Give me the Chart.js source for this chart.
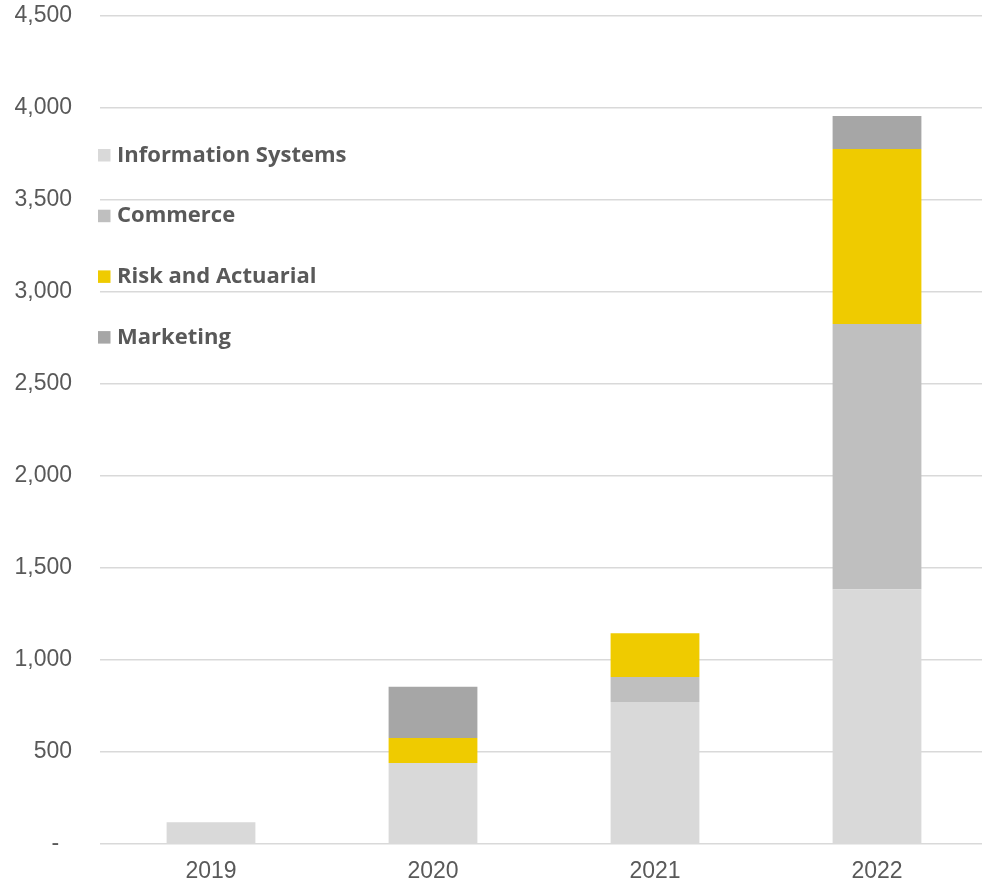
<!DOCTYPE html>
<html>
<head>
<meta charset="utf-8">
<script src="https://cdn.jsdelivr.net/npm/chart.js@4.4.1/dist/chart.umd.min.js"></script>
<style>
    html, body { margin: 0; padding: 0; background: #fff; overflow: hidden; }
    #wrap { width: 988px; height: 886px; position: relative; }
</style>
</head>
<body>
<div id="wrap"><canvas id="chart"></canvas></div>
<script>
// Chart data
const years = ["2019", "2020", "2021", "2022"];
const infoSystems = [116, 438, 770, 1382];
const commerce = [0, 0, 136, 1442];
const riskActuarial = [0, 136, 237, 951];
const marketing = [0, 279, 0, 179];
const yTicks = [0, 500, 1000, 1500, 2000, 2500, 3000, 3500, 4000, 4500];

const textGrey = "#595959";

// Legend drawn inside the plot area, top left
const insideLegend = {
    id: "insideLegend",
    afterDraw(chart) {
        const ctx = chart.ctx;
        const x = 98;
        const startY = 155;
        const step = 60.7;
        ctx.save();
        ctx.font = "700 22px 'Open Sans'";
        ctx.textBaseline = "middle";
        ctx.textAlign = "left";
        chart.data.datasets.forEach((ds, i) => {
            const y = startY + i * step;
            ctx.fillStyle = ds.backgroundColor;
            ctx.fillRect(x, y - 6, 12.5, 12.5);
            ctx.fillStyle = textGrey;
            ctx.fillText(ds.label, x + 19, y + 0.5);
        });
        ctx.restore();
    }
};

const makeSet = (label, data, color) => ({
    label: label,
    data: data,
    backgroundColor: color,
    borderWidth: 0,
    barPercentage: 0.4,
    categoryPercentage: 1.0
});

new Chart(document.getElementById("chart"), {
    type: "bar",
    data: {
        labels: years,
        datasets: [
            makeSet("Information Systems", infoSystems, "#d9d9d9"),
            makeSet("Commerce", commerce, "#bfbfbf"),
            makeSet("Risk and Actuarial", riskActuarial, "#efcb00"),
            makeSet("Marketing", marketing, "#a6a6a6")
        ]
    },
    options: {
        responsive: true,
        maintainAspectRatio: false,
        animation: false,
        layout: { padding: { top: 15.5, right: 0, left: 0, bottom: 0 } },
        plugins: {
            legend: { display: false },
            tooltip: { enabled: false }
        },
        scales: {
            x: {
                stacked: true,
                grid: { display: false, drawTicks: false },
                border: { display: false },
                ticks: {
                    color: textGrey,
                    font: { family: "'Liberation Sans', Arial", size: 23 },
                    padding: 14
                },
                afterFit: (scale) => {
                    scale.height = 42.3;
                    scale.paddingLeft = 0;
                    scale.paddingRight = 0;
                }
            },
            y: {
                stacked: true,
                min: 0,
                max: 4500,
                afterBuildTicks: (scale) => {
                    scale.ticks = yTicks.map(v => ({ value: v }));
                },
                grid: { color: "#d9d9d9", lineWidth: 1.5, drawTicks: false },
                border: { display: false },
                ticks: {
                    color: textGrey,
                    font: { family: "'Liberation Sans', Arial", size: 23 },
                    padding: 28,
                    callback: (v) => v === 0 ? "-  " : v.toLocaleString("en-US")
                },
                afterFit: (scale) => {
                    scale.width = 100;
                    scale.paddingTop = 0;
                    scale.paddingBottom = 0;
                }
            }
        }
    },
    plugins: [insideLegend]
});
</script>
</body>
</html>
